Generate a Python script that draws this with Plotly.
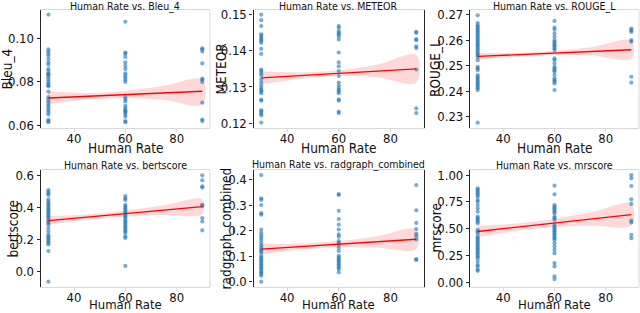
import plotly.graph_objects as go
from plotly.subplots import make_subplots

# ---------------- data ----------------
metric_names = ["Bleu_4", "METEOR", "ROUGE_L", "bertscore", "radgraph_combined", "mrscore"]

bleu_30 = [0.111, 0.095, 0.094, 0.093, 0.092, 0.0905, 0.089, 0.088, 0.086, 0.085, 0.084, 0.0835,
           0.083, 0.082, 0.081, 0.080, 0.079, 0.0785, 0.078, 0.0755, 0.073, 0.072, 0.071, 0.070,
           0.069, 0.068, 0.067, 0.066, 0.065, 0.0625, 0.062, 0.0615]
bleu_60 = [0.1077, 0.0935, 0.093, 0.0915, 0.089, 0.0875, 0.086, 0.084, 0.083, 0.082, 0.081, 0.080,
           0.073, 0.072, 0.071, 0.069, 0.068, 0.067, 0.0665, 0.066, 0.065, 0.064, 0.062, 0.0615]
bleu_90 = [0.0955, 0.095, 0.094, 0.0885, 0.0815, 0.081, 0.080, 0.0705, 0.0627, 0.062]

meteor_30 = [0.1499, 0.1484, 0.1468, 0.1445, 0.1441, 0.1436, 0.1431, 0.1427, 0.1422, 0.1405, 0.1391,
             0.1348, 0.1344, 0.1338, 0.1332, 0.1321, 0.1312, 0.1304, 0.1297, 0.1292, 0.1288, 0.1283,
             0.1265, 0.1262, 0.1236, 0.1232, 0.1227, 0.1222, 0.1202]
meteor_60 = [0.1468, 0.1463, 0.1454, 0.1449, 0.1445, 0.1440, 0.1431, 0.1395, 0.1368, 0.1357, 0.1344,
             0.1330, 0.1312, 0.1304, 0.1297, 0.1292, 0.1288, 0.1283, 0.1266, 0.1262, 0.1232, 0.1228]
meteor_90 = [0.1452, 0.1449, 0.1432, 0.1429, 0.1412, 0.1407, 0.1348, 0.1241, 0.1228]

rouge_30 = [0.2697, 0.2667, 0.2658, 0.2652, 0.2645, 0.2639, 0.2632, 0.2626, 0.2619, 0.2613, 0.2606,
            0.2600, 0.2593, 0.2587, 0.2580, 0.2574, 0.2567, 0.2561, 0.2554, 0.2547, 0.2541, 0.2534,
            0.2521, 0.2495, 0.2489, 0.2482, 0.2463, 0.2456, 0.2450, 0.2443, 0.2437, 0.2430, 0.2424,
            0.2417, 0.2411, 0.2404, 0.2276]
rouge_60 = [0.2675, 0.2649, 0.2641, 0.2626, 0.2613, 0.2600, 0.2593, 0.2587, 0.2580, 0.2574, 0.2567,
            0.2561, 0.2528, 0.2521, 0.2508, 0.2495, 0.2489, 0.2482, 0.2476, 0.2463, 0.2450, 0.2443,
            0.2437, 0.2430, 0.2404]
rouge_90 = [0.2645, 0.2639, 0.2632, 0.2600, 0.2593, 0.2456, 0.2433]

bert_30 = [0.508, 0.498, 0.487, 0.477, 0.450, 0.436, 0.426, 0.415, 0.405, 0.395, 0.385, 0.375, 0.364,
           0.354, 0.344, 0.334, 0.323, 0.313, 0.303, 0.293, 0.272, 0.252, 0.231, 0.221, 0.211, 0.201,
           0.190, 0.180, 0.170, 0.129, -0.061]
bert_60 = [0.471, 0.457, 0.446, 0.416, 0.405, 0.395, 0.385, 0.375, 0.364, 0.354, 0.344, 0.334, 0.323,
           0.313, 0.303, 0.293, 0.283, 0.272, 0.262, 0.252, 0.242, 0.221, 0.211, 0.037]
bert_90 = [0.600, 0.569, 0.532, 0.524, 0.416, 0.410, 0.334, 0.313, 0.258]

rad_30 = [0.417, 0.326, 0.320, 0.300, 0.268, 0.262, 0.204, 0.191, 0.181, 0.172, 0.163, 0.152, 0.142,
          0.133, 0.126, 0.120, 0.113, 0.101, 0.094, 0.088, 0.081, 0.075, 0.068, 0.062, 0.055, 0.049,
          0.042, 0.036, 0.030, 0.023, 0.0]
rad_60 = [0.343, 0.339, 0.277, 0.245, 0.223, 0.204, 0.185, 0.176, 0.159, 0.152, 0.146, 0.133, 0.120,
          0.101, 0.094, 0.088, 0.081, 0.075, 0.068, 0.062, 0.055, 0.049, 0.036]
rad_90 = [0.378, 0.279, 0.230, 0.206, 0.187, 0.178, 0.165, 0.088, 0.085]

mr_30 = [0.876, 0.861, 0.845, 0.830, 0.814, 0.799, 0.768, 0.752, 0.721, 0.690, 0.659, 0.613, 0.598,
         0.582, 0.567, 0.551, 0.489, 0.474, 0.458, 0.427, 0.412, 0.396, 0.381, 0.365, 0.350, 0.334,
         0.319, 0.303, 0.288, 0.272, 0.257, 0.241, 0.226, 0.195, 0.164, 0.149, 0.118, 0.108]
mr_60 = [0.901, 0.820, 0.721, 0.706, 0.690, 0.675, 0.659, 0.644, 0.613, 0.598, 0.582, 0.536, 0.520,
         0.505, 0.489, 0.474, 0.458, 0.443, 0.427, 0.412, 0.396, 0.365, 0.334, 0.303, 0.272, 0.180,
         0.149, 0.056, 0.031]
mr_90 = [1.0, 0.969, 0.898, 0.774, 0.731, 0.576, 0.557, 0.443, 0.412]

rate_levels = [30, 60, 90]

# regression line (x=30, x=90) and its confidence band
fit_x = [30, 90]
ci_x = [30, 45, 60, 75, 90]
fit_vals = {
    "Bleu_4": [0.0726, 0.0757],
    "METEOR": [0.1325, 0.1350],
    "ROUGE_L": [0.2536, 0.2562],
    "bertscore": [0.319, 0.405],
    "radgraph_combined": [0.127, 0.166],
    "mrscore": [0.474, 0.632],
}
ci_lo = {
    "Bleu_4": [0.0696, 0.0719, 0.0726, 0.0717, 0.0697],
    "METEOR": [0.1307, 0.1322, 0.1330, 0.1326, 0.1312],
    "ROUGE_L": [0.2522, 0.2536, 0.2541, 0.2539, 0.2527],
    "bertscore": [0.291, 0.3245, 0.343, 0.3535, 0.360],
    "radgraph_combined": [0.105, 0.125, 0.134, 0.134, 0.128],
    "mrscore": [0.419, 0.4785, 0.513, 0.5275, 0.532],
}
ci_hi = {
    "Bleu_4": [0.0757, 0.0749, 0.0758, 0.0782, 0.0810],
    "METEOR": [0.1343, 0.1340, 0.1346, 0.1362, 0.1388],
    "ROUGE_L": [0.2550, 0.2550, 0.2557, 0.2573, 0.2597],
    "bertscore": [0.347, 0.3565, 0.381, 0.4135, 0.450],
    "radgraph_combined": [0.149, 0.149, 0.159, 0.178, 0.204],
    "mrscore": [0.529, 0.5485, 0.593, 0.6575, 0.732],
}

series = {
    "Bleu_4": [bleu_30, bleu_60, bleu_90],
    "METEOR": [meteor_30, meteor_60, meteor_90],
    "ROUGE_L": [rouge_30, rouge_60, rouge_90],
    "bertscore": [bert_30, bert_60, bert_90],
    "radgraph_combined": [rad_30, rad_60, rad_90],
    "mrscore": [mr_30, mr_60, mr_90],
}

y_ranges = {
    "Bleu_4": [0.0588, 0.1131],
    "METEOR": [0.1187, 0.1512],
    "ROUGE_L": [0.2255, 0.2718],
    "bertscore": [-0.094, 0.633],
    "radgraph_combined": [-0.021, 0.437],
    "mrscore": [-0.043, 1.047],
}
y_ticks = {
    "Bleu_4": ([0.06, 0.08, 0.10], ".2f"),
    "METEOR": ([0.12, 0.13, 0.14, 0.15], ".2f"),
    "ROUGE_L": ([0.23, 0.24, 0.25, 0.26, 0.27], ".2f"),
    "bertscore": ([0.0, 0.2, 0.4, 0.6], ".1f"),
    "radgraph_combined": ([0.0, 0.1, 0.2, 0.3, 0.4], ".1f"),
    "mrscore": ([0.0, 0.25, 0.5, 0.75, 1.0], ".2f"),
}
x_ticks = [40, 60, 80]
x_title = "Human Rate"

# ---------------- figure ----------------
W, H = 640, 313
col_px = [(40.7, 210.0), (253.5, 424.0), (470.0, 639.0)]
row_px = [(10.0, 128.0), (170.0, 287.0)]
title_y_px = [6.0, 164.5]
ytitle_x_px = [6.5, 220.5, 435.0, 12.0, 225.0, 435.0]
xtitle_y_px = [148.0, 304.5]
xtitle_size = [13.5, 13.0]

FONT = "DejaVu Sans Condensed, DejaVu Sans"
DARK = "#262626"
LIGHT = "#d9d9d9"
TXT = "#111111"
PT = "rgba(31,119,180,0.6)"

fig = make_subplots(rows=2, cols=3)

annotations = []
shapes = []
for i, name in enumerate(metric_names):
    r, c = divmod(i, 3)
    row, col = r + 1, c + 1
    groups = series[name]
    xs, ys = [], []
    for lvl, vals in zip(rate_levels, groups):
        xs += [lvl] * len(vals)
        ys += vals
    # CI band
    fig.add_trace(go.Scatter(
        x=ci_x + ci_x[::-1], y=ci_hi[name] + ci_lo[name][::-1],
        fill="toself", fillcolor="rgba(255,0,0,0.15)", line=dict(width=0, shape="spline"),
        mode="lines", hoverinfo="skip", showlegend=False), row=row, col=col)
    fig.add_trace(go.Scatter(
        x=xs, y=ys, mode="markers",
        marker=dict(size=4.2, color=PT, line=dict(width=0)),
        showlegend=False), row=row, col=col)
    fig.add_trace(go.Scatter(
        x=fit_x, y=fit_vals[name], mode="lines",
        line=dict(color="red", width=1.3), showlegend=False), row=row, col=col)

    x0, x1 = col_px[c]
    yt, yb = row_px[r]
    ax_idx = "" if i == 0 else str(i + 1)
    tv, fmt = y_ticks[name]
    fig.layout["xaxis" + ax_idx].update(
        domain=[x0 / W, x1 / W], range=[27, 93], tickvals=x_ticks,
        showgrid=False, zeroline=False, showline=True, linecolor=LIGHT, linewidth=1, mirror=True,
        ticks="outside", ticklen=3, tickcolor=LIGHT, ticklabelstandoff=-5,
        tickfont=dict(family=FONT, size=13, color=TXT), automargin=False)
    fig.layout["yaxis" + ax_idx].update(
        domain=[1 - yb / H, 1 - yt / H], range=y_ranges[name], tickvals=tv, tickformat=fmt,
        showgrid=False, zeroline=False, showline=True, linecolor=DARK, linewidth=1.2,
        mirror=(c == 1), automargin=False,
        ticks="outside", ticklen=3, tickcolor=DARK, tickfont=dict(family=FONT, size=13, color=TXT))
    if c != 1:
        shapes.append(dict(type="line", xref=f"x{ax_idx} domain", yref=f"y{ax_idx} domain",
                           x0=1, x1=1, y0=0, y1=1, line=dict(color=LIGHT, width=1)))
    # subplot title
    annotations.append(dict(text=f"Human Rate vs. {name}", xref="paper", yref="paper",
                            x=(x0 + x1) / 2 / W, y=1 - title_y_px[r] / H, xanchor="center",
                            yanchor="middle", showarrow=False,
                            font=dict(family=FONT, size=10.5, color=TXT)))
    # x title
    annotations.append(dict(text=x_title, xref="paper", yref="paper",
                            x=(x0 + x1) / 2 / W, y=1 - xtitle_y_px[r] / H, xanchor="center",
                            yanchor="middle", showarrow=False,
                            font=dict(family=FONT, size=xtitle_size[r], color=TXT)))
    # y title
    annotations.append(dict(text=name, xref="paper", yref="paper", textangle=-90,
                            x=ytitle_x_px[i] / W, y=1 - (yt + yb) / 2 / H, xanchor="center",
                            yanchor="middle", showarrow=False,
                            font=dict(family=FONT, size=13.5, color=TXT)))

fig.update_layout(width=W, height=H, margin=dict(l=0, r=0, t=0, b=0),
                  paper_bgcolor="white", plot_bgcolor="white",
                  annotations=annotations, shapes=shapes, showlegend=False)

fig.write_html("out.html", config={"displayModeBar": False},
               post_script="document.body.style.margin='0px';document.body.style.padding='0px';")
